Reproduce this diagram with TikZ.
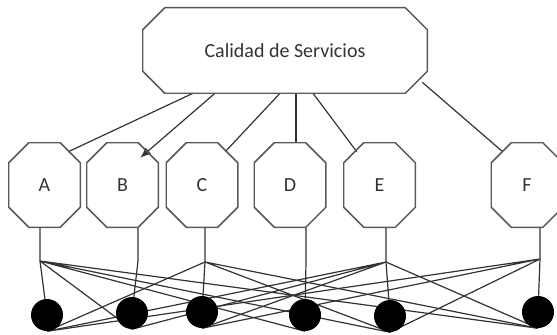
\documentclass[tikz,border=0pt]{standalone}
\usepackage{fontspec}
\setmainfont{Carlito}
\usetikzlibrary{arrows.meta,backgrounds}

\begin{document}
\begin{tikzpicture}[x=0.75pt,y=-0.75pt,
    oct/.style={rectangle,minimum width=53.25pt,minimum height=63pt,inner sep=0pt,
        text=black!80,font=\fontsize{15}{17}\selectfont},
    octline/.style={draw=black!65,line width=1.1pt},
    dot/.style={circle,fill=black,minimum size=24pt,inner sep=0pt},
    wire/.style={draw=black!80,line width=0.9pt}]
\useasboundingbox (0,0) rectangle (557,335);
\node[oct,minimum width=213pt,minimum height=63.75pt] (qs) at (285,50.5) {Calidad de Servicios};
\node[oct] (A) at (44.5,185) {A};
\node[oct] (B) at (122.5,185) {B};
\node[oct] (C) at (202,185) {C};
\node[oct] (D) at (290,185) {D};
\node[oct] (E) at (379.5,185) {E};
\node[oct] (F) at (527,185) {F};
% octagon outlines
\foreach \n/\c in {qs/16.5pt,A/15pt,B/15pt,C/15pt,D/15pt,E/15pt,F/15pt}
  \draw[octline] ([xshift=\c]\n.north west) -- ([xshift=-\c]\n.north east)
    -- ([yshift=-\c]\n.north east) -- ([yshift=\c]\n.south east)
    -- ([xshift=-\c]\n.south east) -- ([xshift=\c]\n.south west)
    -- ([yshift=\c]\n.south west) -- ([yshift=-\c]\n.north west) -- cycle;
\node[dot] (cA) at (47,315) {};
\node[dot] (cB) at (132,313) {};
\node[dot] (cC) at (202,312) {};
\node[dot] (cD) at (305,315) {};
\node[dot] (cE) at (390,316) {};
\node[dot] (cF) at (538,312) {};
\coordinate (jA) at (40,261);
\coordinate (jB) at (138,261);
\coordinate (jC) at (205,262);
\coordinate (jD) at (306,262);
\coordinate (jE) at (386,262);
\coordinate (jF) at (540,259);
\begin{scope}[on background layer]
% top level
\draw[wire] ([xshift=-69pt]qs.south) -- ([xshift=-9pt,yshift=-6.75pt]A.north east);
\draw[wire,-{Latex[length=8pt,width=6.5pt]}] ([xshift=-52.5pt]qs.south) -- ([xshift=-13.5pt,yshift=-11.25pt]B.north east);
\draw[wire] ([xshift=-3.75pt]qs.south) -- ([xshift=-9.4pt,yshift=-6.75pt]C.north east);
\draw[wire] ([xshift=8.25pt]qs.south) -- ([xshift=4.5pt]D.north);
\draw[wire] ([xshift=21pt]qs.south) -- ([xshift=9.75pt,yshift=-6.75pt]E.north west);
\draw[wire] ([xshift=-3.75pt,yshift=8.25pt]qs.south east) -- ([xshift=8.6pt,yshift=-6.75pt]F.north west);
% stems
\foreach \n in {A,...,F}
  \draw[wire] (\n.south -| j\n) -- (j\n) -- (c\n);
% cross links
\draw[wire] (jA) -- (cB.south) (jA) -- (cD.south) (jA) -- (cE.south) (jA) -- (cF.south);
\draw[wire] (jC) -- (cA.south) (jC) -- (cE.south) (jC) -- (cF.south);
\draw[wire] (jE) -- (cA.south) (jE) -- (cB.south) (jE) -- (cC.south) (jE) -- (cF.south);
\draw[wire] (jF) -- (cA.south) (jF) -- (cC.south) (jF) -- (cE.south);
\end{scope}
\end{tikzpicture}
\end{document}
